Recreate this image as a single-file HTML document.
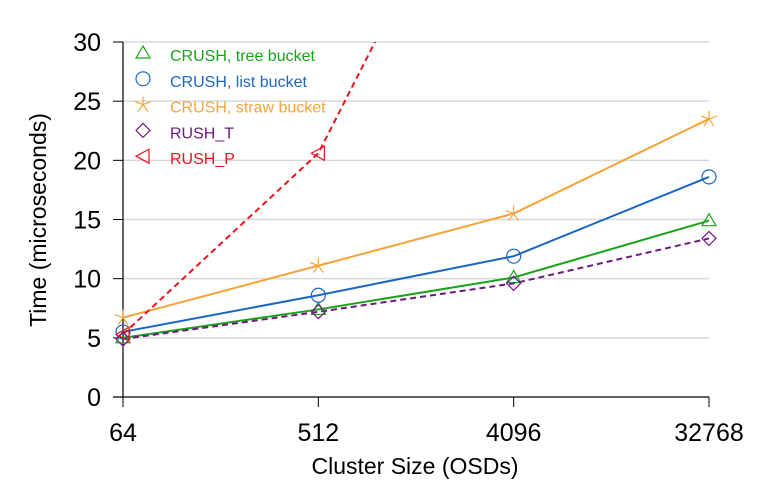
<!DOCTYPE html>
<html><head><meta charset="utf-8"><style>
html,body{margin:0;padding:0;background:#fff;}
svg{display:block;font-family:"Liberation Sans",Arial,sans-serif;}
</style></head><body>
<svg id="chart" width="766" height="486">
<defs><clipPath id="plotclip"><rect x="100" y="42" width="640" height="356"/></clipPath></defs>
<g id="grid"></g>
<g id="axes"></g>
<g id="series" clip-path="url(#plotclip)"></g>
<g id="marks"></g>
<g id="legend"></g>
<text x="415" y="474" font-size="23" text-anchor="middle" fill="#000">Cluster Size (OSDs)</text>
<text transform="translate(46,220) rotate(-90)" font-size="23" text-anchor="middle" fill="#000">Time (microseconds)</text>
</svg>
<script>
const categories = ["64","512","4096","32768"];
const yTicks = [0,5,10,15,20,25,30];
const treeVals = [5.0,7.4,10.1,14.9];
const listVals = [5.5,8.6,11.9,18.6];
const strawVals = [6.7,11.1,15.5,23.5];
const rushTVals = [4.9,7.2,9.6,13.4];
const rushPVals = [5.3,20.6,53,120];
const seriesNames = ["CRUSH, tree bucket","CRUSH, list bucket","CRUSH, straw bucket","RUSH_T","RUSH_P"];

const NS="http://www.w3.org/2000/svg";
const xPos=i=>123+i*(709-123)/(categories.length-1);
const yPos=v=>397-v*(397-42)/30;
function mk(tag,attrs,parent){const e=document.createElementNS(NS,tag);for(const k in attrs)e.setAttribute(k,attrs[k]);parent.appendChild(e);return e;}
const grid=document.getElementById('grid'),axes=document.getElementById('axes'),ser=document.getElementById('series'),marks=document.getElementById('marks'),leg=document.getElementById('legend');

yTicks.forEach(t=>{
  if(t>0){const g=mk('line',{x1:123,x2:709,y1:yPos(t),y2:yPos(t),stroke:'#d8d8d8','stroke-width':1.5},grid);
  
  }
  const tk=mk('line',{x1:113,x2:123,y1:yPos(t),y2:yPos(t),stroke:'#000','stroke-width':1},axes);
  
  
  const lb=mk('text',{x:101,y:yPos(t)+9,'font-size':25,'text-anchor':'end'},axes);lb.textContent=t;
  
  
});
mk('line',{x1:123,x2:123,y1:42,y2:397,stroke:'#000','stroke-width':1.2},axes);
mk('line',{x1:113,x2:709,y1:397,y2:397,stroke:'#000','stroke-width':1.2},axes);
categories.forEach((c,i)=>{
  const tk=mk('line',{x1:xPos(i),x2:xPos(i),y1:397,y2:407,stroke:'#000','stroke-width':1},axes);
  
  
  const lb=mk('text',{x:xPos(i),y:441,'font-size':25,'text-anchor':'middle'},axes);lb.textContent=c;
  
  
});

function marker(type,x,y,color,parent){
  const a={fill:'none',stroke:color,'stroke-width':1.2};
  let e;
  if(type==='tri') e=mk('polygon',Object.assign({points:`${x},${y-7} ${x-7},${y+5} ${x+7},${y+5}`},a),parent);
  else if(type==='circ') e=mk('circle',Object.assign({cx:x,cy:y,r:7},a),parent);
  else if(type==='star'){e=mk('path',Object.assign({d:`M${x},${y-8}L${x},${y}M${x-8},${y-3}L${x},${y}M${x+8},${y-3}L${x},${y}M${x-5},${y+7}L${x},${y}M${x+5},${y+7}L${x},${y}`},a),parent);}
  else if(type==='dia') e=mk('polygon',Object.assign({points:`${x},${y-7} ${x+7},${y} ${x},${y+7} ${x-7},${y}`},a),parent);
  else e=mk('polygon',Object.assign({points:`${x-7},${y} ${x+6},${y-7} ${x+6},${y+7}`},a),parent);
  return e;
}
const defs=[
 {vals:treeVals,color:'#1aa31a',m:'tri',dash:null,key:'tree'},
 {vals:listVals,color:'#1a66c4',m:'circ',dash:null,key:'list'},
 {vals:strawVals,color:'#f5a43a',m:'star',dash:null,key:'straw'},
 {vals:rushTVals,color:'#6e1a80',m:'dia',dash:'6,4',key:'rush-t'},
 {vals:rushPVals,color:'#e8161c',m:'ltri',dash:'6,4',key:'rush-p'}];
defs.forEach((d,si)=>{
  const pts=d.vals.map((v,i)=>xPos(i)+','+yPos(v)).join(' ');
  const pl=mk('polyline',{points:pts,fill:'none',stroke:d.color,'stroke-width':2},ser);
  if(d.dash)pl.setAttribute('stroke-dasharray',d.dash);
  
  
  d.vals.forEach((v,i)=>{ if(v<=30){
    const e=marker(d.m,xPos(i),yPos(v),d.color,marks);
    
    }
  });
  const ly=58+si*25.8;
  const le=marker(d.m,143,ly-5,d.color,leg);
  
  
  const t=mk('text',{x:170,y:ly+3,'font-size':16,fill:d.color},leg);t.textContent=seriesNames[si];
  
  
});
</script>
</body></html>
